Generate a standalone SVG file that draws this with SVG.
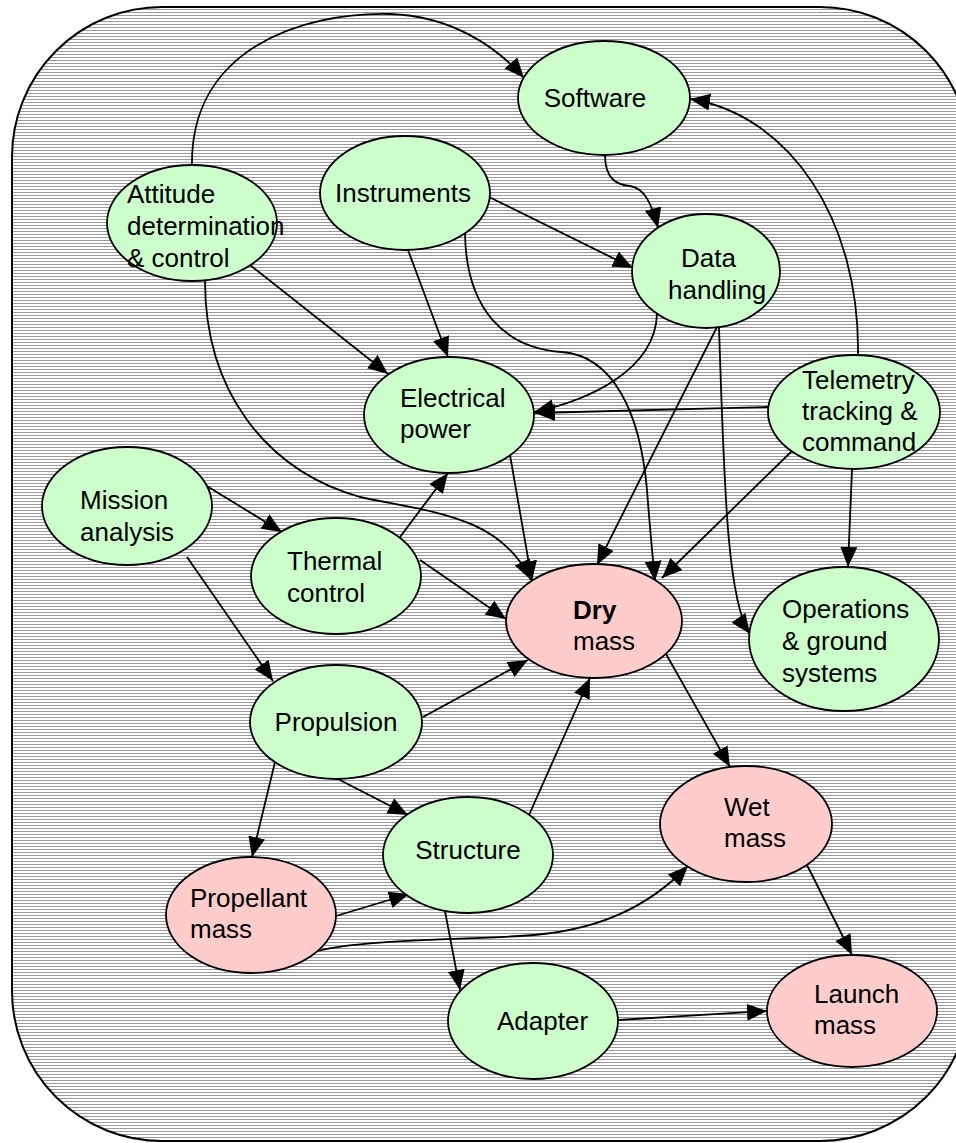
<svg xmlns="http://www.w3.org/2000/svg" width="956" height="1143" viewBox="0 0 956 1143">
  <style>
    .frame { fill: url(#hatch); stroke: #000; stroke-width: 2; }
    .sub { fill: #ccffcc; stroke: #000; stroke-width: 1.8; }
    .mass { fill: #ffcccc; stroke: #000; stroke-width: 1.8; }
    .lbl { font-family: "Liberation Sans", Arial, sans-serif; font-size: 26px; fill: #000; }
    .bold { font-weight: bold; }
    .edge { fill: none; stroke: #000; stroke-width: 1.8; marker-end: url(#arrow); }
  </style>
  <defs>
    <pattern id="hatch" width="8" height="3" patternUnits="userSpaceOnUse">
      <rect width="8" height="3" fill="#fff"/>
      <rect width="8" height="1" fill="#9a9a9a"/>
    </pattern>
    <marker id="arrow" markerUnits="userSpaceOnUse" markerWidth="22" markerHeight="18" refX="20" refY="8.5" orient="auto">
      <path d="M0,0 L20,8.5 L0,17 z" fill="#000"/>
    </marker>
  </defs>

  <!-- hatched rounded frame -->
  <rect class="frame" x="12" y="7" width="958" height="1134" rx="150" ry="150"/>

  <!-- connectors -->
  <g id="connectors">
    <path class="edge" d="M192,166 C190,50 300,12 390,14 C450,16 495,45 524,78"/>
    <path class="edge" d="M858,355 C860,220 790,115 690,99"/>
    <path class="edge" d="M605,155 C605,180 618,185 630,186 C645,188 652,205 658,228"/>
    <path class="edge" d="M489,197 L633,268"/>
    <path class="edge" d="M408,250 L448,357"/>
    <path class="edge" d="M465,233 C466,310 505,348 562,352 C612,356 640,410 647,490 C650,530 653,560 655,581"/>
    <path class="edge" d="M657,314 C655,370 590,400 534,412"/>
    <path class="edge" d="M768,407 L535,413"/>
    <path class="edge" d="M250,265 L388,374"/>
    <path class="edge" d="M205,281 C205,390 265,470 360,497 C430,512 500,515 531,580"/>
    <path class="edge" d="M510,455 L532,581"/>
    <path class="edge" d="M717,327 L597,565"/>
    <path class="edge" d="M719,328 C724,470 726,600 750,634"/>
    <path class="edge" d="M792,451 L662,578"/>
    <path class="edge" d="M852,469 L848,567"/>
    <path class="edge" d="M197,480 L282,532"/>
    <path class="edge" d="M187,557 L273,681"/>
    <path class="edge" d="M400,537 L448,473"/>
    <path class="edge" d="M420,560 L506,619"/>
    <path class="edge" d="M423,717 L528,660"/>
    <path class="edge" d="M336,778 L408,815"/>
    <path class="edge" d="M275,762 L252,857"/>
    <path class="edge" d="M529,815 L590,678"/>
    <path class="edge" d="M336,916 L409,894"/>
    <path class="edge" d="M445,911 L460,990"/>
    <path class="edge" d="M318,951 C360,940 450,940 520,936 C600,932 650,905 688,866"/>
    <path class="edge" d="M618,1020 L767,1011"/>
    <path class="edge" d="M666,654 L730,767"/>
    <path class="edge" d="M807,865 L852,955"/>
  </g>

  <!-- nodes -->
  <g id="software">
    <ellipse class="sub" cx="604" cy="98" rx="86" ry="57"/>
    <text class="lbl" x="595" y="107" text-anchor="middle">Software</text>
  </g>
  <g id="instruments">
    <ellipse class="sub" cx="405" cy="193" rx="85" ry="57"/>
    <text class="lbl" x="403" y="202" text-anchor="middle">Instruments</text>
  </g>
  <g id="attitude">
    <ellipse class="sub" cx="192" cy="223" rx="85" ry="58"/>
    <text class="lbl" x="127" y="203">Attitude</text>
    <text class="lbl" x="127" y="235">determination</text>
    <text class="lbl" x="127" y="267">&amp; control</text>
  </g>
  <g id="data-handling">
    <ellipse class="sub" cx="706" cy="271" rx="74" ry="57"/>
    <text class="lbl" x="681" y="267">Data</text>
    <text class="lbl" x="668" y="299">handling</text>
  </g>
  <g id="electrical-power">
    <ellipse class="sub" cx="449" cy="415" rx="85" ry="58"/>
    <text class="lbl" x="400" y="407">Electrical</text>
    <text class="lbl" x="400" y="438">power</text>
  </g>
  <g id="telemetry">
    <ellipse class="sub" cx="854" cy="412" rx="86" ry="57"/>
    <text class="lbl" x="802" y="389">Telemetry</text>
    <text class="lbl" x="802" y="420">tracking &amp;</text>
    <text class="lbl" x="802" y="451">command</text>
  </g>
  <g id="mission-analysis">
    <ellipse class="sub" cx="127" cy="506" rx="85" ry="59"/>
    <text class="lbl" x="80" y="509">Mission</text>
    <text class="lbl" x="80" y="541">analysis</text>
  </g>
  <g id="thermal-control">
    <ellipse class="sub" cx="336" cy="576" rx="85" ry="58"/>
    <text class="lbl" x="287" y="570">Thermal</text>
    <text class="lbl" x="287" y="602">control</text>
  </g>
  <g id="dry-mass">
    <ellipse class="mass" cx="594" cy="621" rx="88" ry="57"/>
    <text class="lbl bold" x="573" y="619">Dry</text>
    <text class="lbl" x="573" y="650">mass</text>
  </g>
  <g id="operations">
    <ellipse class="sub" cx="844" cy="639" rx="95" ry="72"/>
    <text class="lbl" x="782" y="618">Operations</text>
    <text class="lbl" x="782" y="650">&amp; ground</text>
    <text class="lbl" x="782" y="682">systems</text>
  </g>
  <g id="propulsion">
    <ellipse class="sub" cx="336" cy="722" rx="86" ry="57"/>
    <text class="lbl" x="336" y="731" text-anchor="middle">Propulsion</text>
  </g>
  <g id="structure">
    <ellipse class="sub" cx="468" cy="855" rx="85" ry="58"/>
    <text class="lbl" x="468" y="859" text-anchor="middle">Structure</text>
  </g>
  <g id="wet-mass">
    <ellipse class="mass" cx="746" cy="824" rx="86" ry="58"/>
    <text class="lbl" x="724" y="816">Wet</text>
    <text class="lbl" x="724" y="847">mass</text>
  </g>
  <g id="propellant-mass">
    <ellipse class="mass" cx="251" cy="915" rx="85" ry="58"/>
    <text class="lbl" x="190" y="907">Propellant</text>
    <text class="lbl" x="190" y="938">mass</text>
  </g>
  <g id="adapter">
    <ellipse class="sub" cx="533" cy="1021" rx="85" ry="58"/>
    <text class="lbl" x="497" y="1030">Adapter</text>
  </g>
  <g id="launch-mass">
    <ellipse class="mass" cx="852" cy="1011" rx="85" ry="56"/>
    <text class="lbl" x="814" y="1003">Launch</text>
    <text class="lbl" x="814" y="1034">mass</text>
  </g>
</svg>
